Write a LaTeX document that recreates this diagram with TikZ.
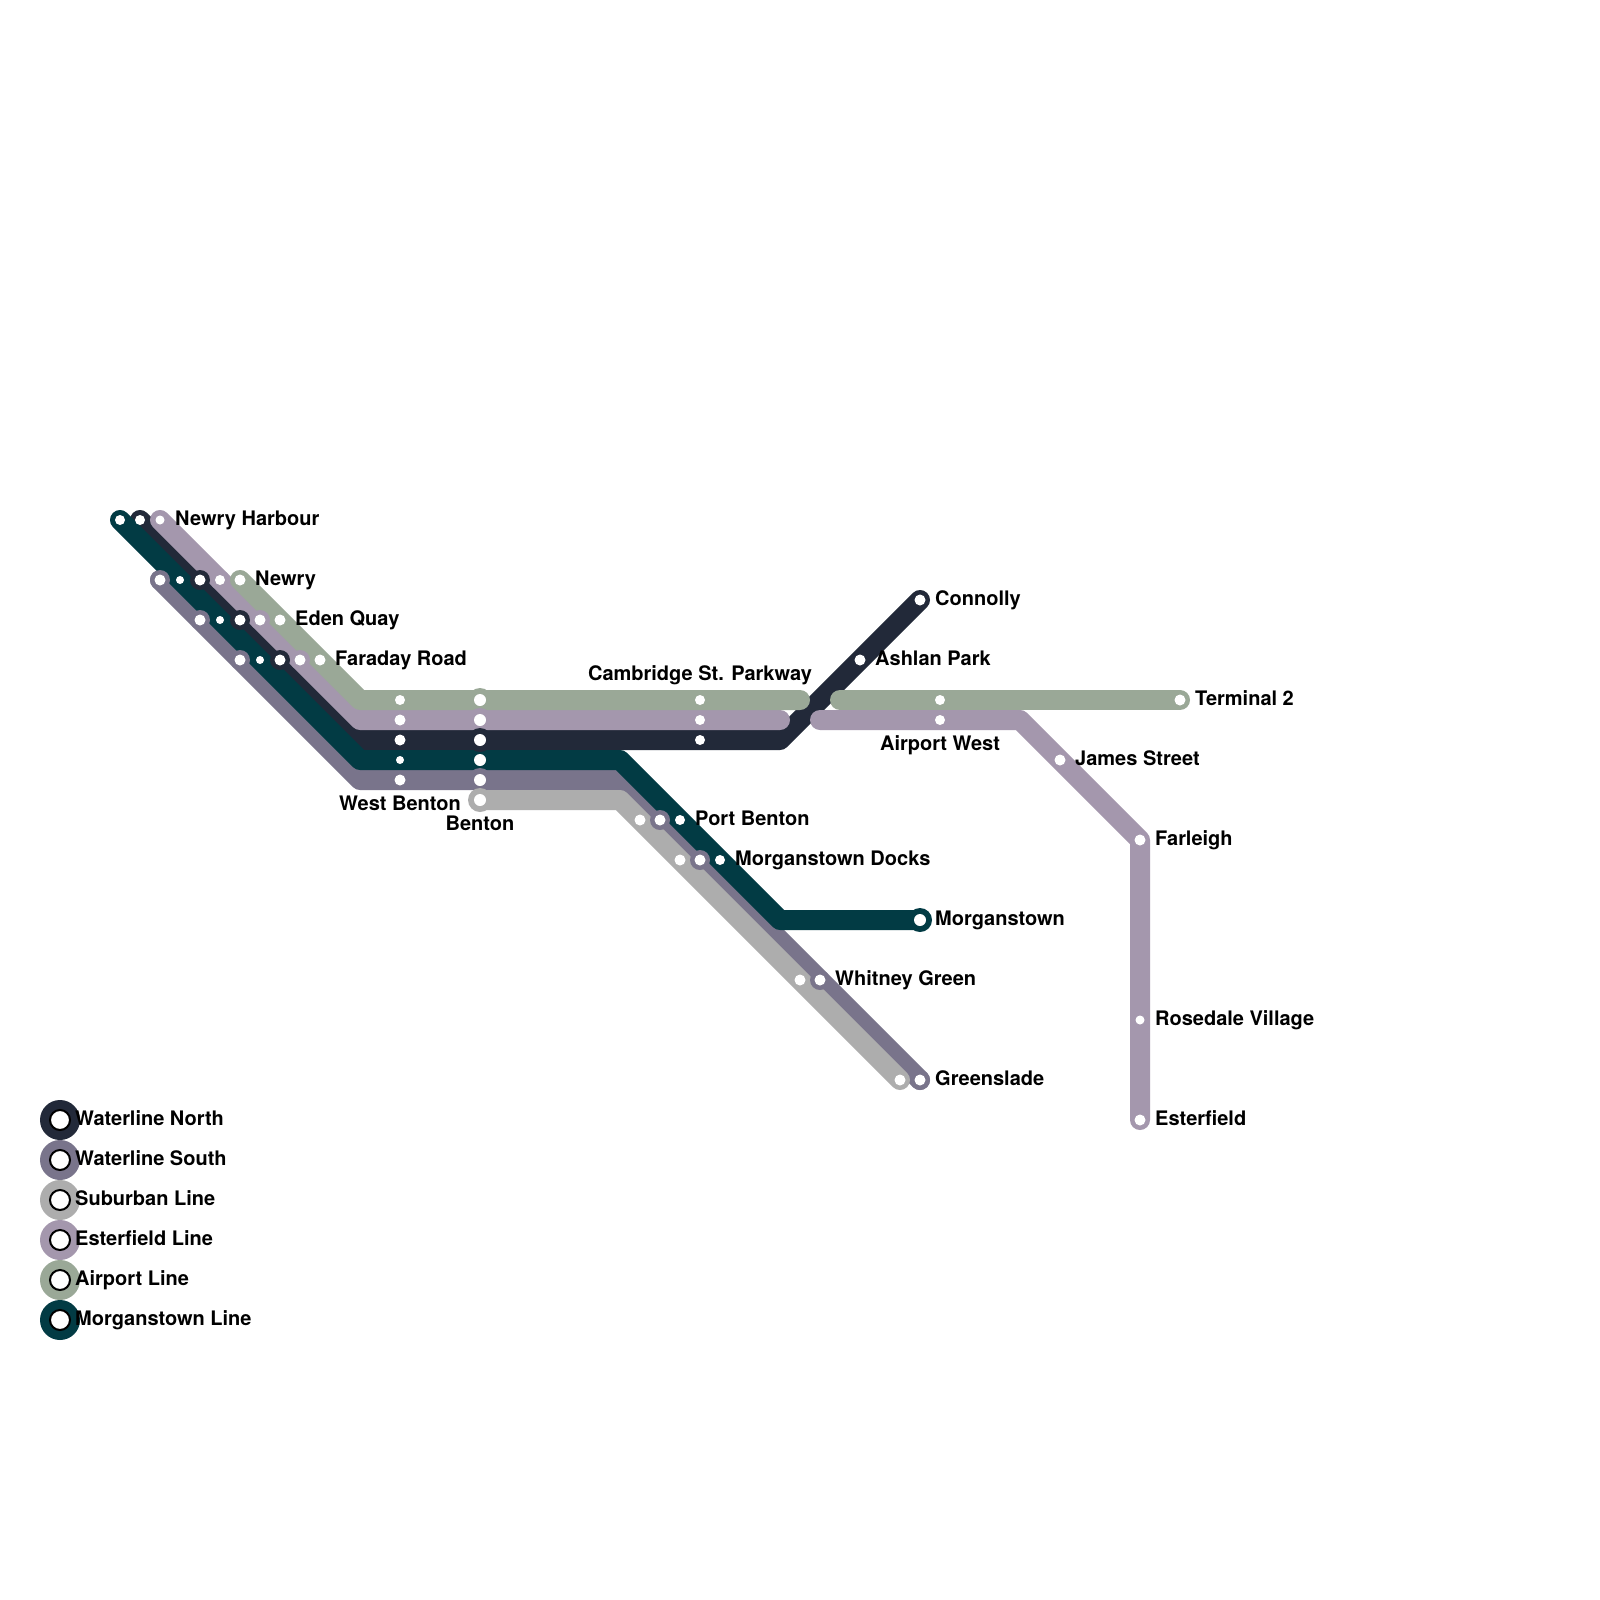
\documentclass[tikz,border=0pt]{standalone}
\usepackage{fontspec}
\setmainfont{TeX Gyre Heros}
\definecolor{cWN}{HTML}{222939}
\definecolor{cWS}{HTML}{79748B}
\definecolor{cSB}{HTML}{ADADAD}
\definecolor{cES}{HTML}{A497AD}
\definecolor{cAP}{HTML}{9AA897}
\definecolor{cMG}{HTML}{023B44}
\tikzset{
  lineseg/.style={line width=20pt,line cap=round,line join=round},
  ring/.style={circle,inner sep=0pt,minimum size=20pt,fill=#1},
  bigring/.style={circle,inner sep=0pt,minimum size=24pt,fill=#1},
  wdot/.style={circle,inner sep=0pt,minimum size=#1,fill=white},
  lbl/.style={inner sep=0pt,font=\fontsize{20}{24}\selectfont\bfseries,text=black},
  lblE/.style={lbl,anchor=base west},
  lblC/.style={lbl,anchor=base},
  legOuter/.style={circle,inner sep=0pt,minimum size=40pt,fill=#1},
  legInner/.style={circle,inner sep=0pt,minimum size=20pt,fill=white,draw=black,line width=2pt}
}
\begin{document}
\begin{tikzpicture}[x=1pt,y=-1pt]
\useasboundingbox (0,0) rectangle (1600,1600);
\fill[white] (0,0) rectangle (1600,1600);
% line vertices
\coordinate (wn0) at (140,520); \coordinate (wn1) at (360,740); \coordinate (wn2) at (780,740); \coordinate (wn3) at (920,600);
\coordinate (ws0) at (160,580); \coordinate (ws1) at (360,780); \coordinate (ws2) at (620,780); \coordinate (ws3) at (920,1080);
\coordinate (sb0) at (480,800); \coordinate (sb1) at (620,800); \coordinate (sb2) at (900,1080);
\coordinate (es0) at (160,520); \coordinate (es1) at (360,720); \coordinate (es2) at (780,720);
\coordinate (es3) at (820,720); \coordinate (es4) at (1020,720); \coordinate (es5) at (1140,840); \coordinate (es6) at (1140,1120);
\coordinate (ap0) at (240,580); \coordinate (ap1) at (360,700); \coordinate (ap2) at (800,700);
\coordinate (ap3) at (840,700); \coordinate (ap4) at (1180,700);
\coordinate (mg0) at (120,520); \coordinate (mg1) at (360,760); \coordinate (mg2) at (620,760); \coordinate (mg3) at (780,920); \coordinate (mg4) at (920,920);
% lines
\draw[lineseg,cWN] (wn0) -- (wn1) -- (wn2) -- (wn3);
\draw[lineseg,cWS] (ws0) -- (ws1) -- (ws2) -- (ws3);
\draw[lineseg,cSB] (sb0) -- (sb1) -- (sb2);
\draw[lineseg,cES] (es0) -- (es1) -- (es2);
\draw[lineseg,cES] (es3) -- (es4) -- (es5) -- (es6);
\draw[lineseg,cAP] (ap0) -- (ap1) -- (ap2);
\draw[lineseg,cAP] (ap3) -- (ap4);
\draw[lineseg,cMG] (mg0) -- (mg1) -- (mg2) -- (mg3) -- (mg4);
% rings
\node[bigring=cMG] (rM1) at (480,760) {};
\node[bigring=cMG] (rM2) at (920,920) {};
\node[bigring=cAP] (rA1) at (480,700) {};
\foreach \n/\x/\y in {rE1/220/580,rE2/260/620,rE3/300/660}
  \node[ring=cES] (\n) at (\x,\y) {};
\node[bigring=cES] (rE4) at (480,720) {};
\foreach \n/\x/\y in {rN1/200/580,rN2/240/620,rN3/280/660}
  \node[ring=cWN] (\n) at (\x,\y) {};
\node[bigring=cWN] (rN4) at (480,740) {};
\foreach \n/\x/\y in {rS1/160/580,rS2/200/620,rS3/240/660,rS4/660/820,rS5/700/860,rS6/820/980,rS7/920/1080}
  \node[ring=cWS] (\n) at (\x,\y) {};
\node[bigring=cWS] (rS8) at (480,780) {};
\node[bigring=cSB] (rB1) at (480,800) {};
% station dots
\foreach \n/\x/\y/\r in {
  dM1/120/520/10pt, dM2/180/580/8pt, dM3/220/620/8pt, dM4/260/660/8pt, dM5/400/760/8pt, dM6/680/820/10pt, dM7/720/860/10pt,
  dN1/140/520/10pt, dN2/200/580/11pt, dN3/240/620/11pt, dN4/280/660/11pt, dN5/400/740/11pt, dN6/700/740/10pt, dN7/860/660/11pt, dN8/920/600/11pt,
  dE1/160/520/9pt, dE2/220/580/10pt, dE3/260/620/11pt, dE4/300/660/11pt, dE5/400/720/11pt, dE6/700/720/10pt, dE7/940/720/10pt, dE8/1060/760/11pt, dE9/1140/840/11pt, dE10/1140/1020/9pt, dE11/1140/1120/11pt,
  dA1/240/580/11pt, dA2/280/620/11pt, dA3/320/660/11pt, dA4/400/700/10pt, dA5/700/700/10pt, dA6/940/700/10pt, dA7/1180/700/11pt,
  dS1/160/580/11pt, dS2/200/620/11pt, dS3/240/660/11pt, dS4/400/780/11pt, dS5/660/820/11pt, dS6/700/860/11pt, dS7/820/980/11pt, dS8/920/1080/11pt,
  dB1/640/820/11pt, dB2/680/860/11pt, dB3/800/980/11pt, dB4/900/1080/11pt,
  dX1/480/700/12pt, dX2/480/720/12pt, dX3/480/740/12pt, dX4/480/760/12pt, dX5/480/780/12pt, dX6/480/800/12pt, dX7/920/920/12pt}
  \node[wdot=\r] (\n) at (\x,\y) {};
% labels
\foreach \n/\x/\y/\t in {
  l1/175/525.5/Newry Harbour, l2/255/585.5/Newry, l3/295/625.5/Eden Quay, l4/335/665.5/Faraday Road,
  l5/875/665.5/Ashlan Park, l6/935/605.5/Connolly, l7/1195/705.5/Terminal 2, l8/1075/765.5/James Street,
  l9/1155/845.5/Farleigh, l10/1155/1025.5/Rosedale Village, l11/1155/1125.5/Esterfield,
  l12/935/925.5/Morganstown, l13/835/985.5/Whitney Green, l14/935/1085.5/Greenslade,
  l15/695/825.5/Port Benton, l16/735/865.5/Morganstown Docks}
  \node[lblE] (\n) at (\x,\y) {\t};
\node[lblC] (l17) at (700,680) {Cambridge St. Parkway};
\node[lblC] (l18) at (940,750) {Airport West};
\node[lblC] (l19) at (400,810) {West Benton};
\node[lblC] (l20) at (480,830) {Benton};
% legend
\foreach \n/\y/\c/\t in {a/1120/cWN/Waterline North, b/1160/cWS/Waterline South, c/1200/cSB/Suburban Line, d/1240/cES/Esterfield Line, e/1280/cAP/Airport Line, f/1320/cMG/Morganstown Line}{
  \node[legOuter=\c] (lo\n) at (60,\y) {};
  \node[legInner] (li\n) at (60,\y) {};
  \node[lblE] (lt\n) at (75,\y+5.5) {\t};
}
\end{tikzpicture}
\end{document}
